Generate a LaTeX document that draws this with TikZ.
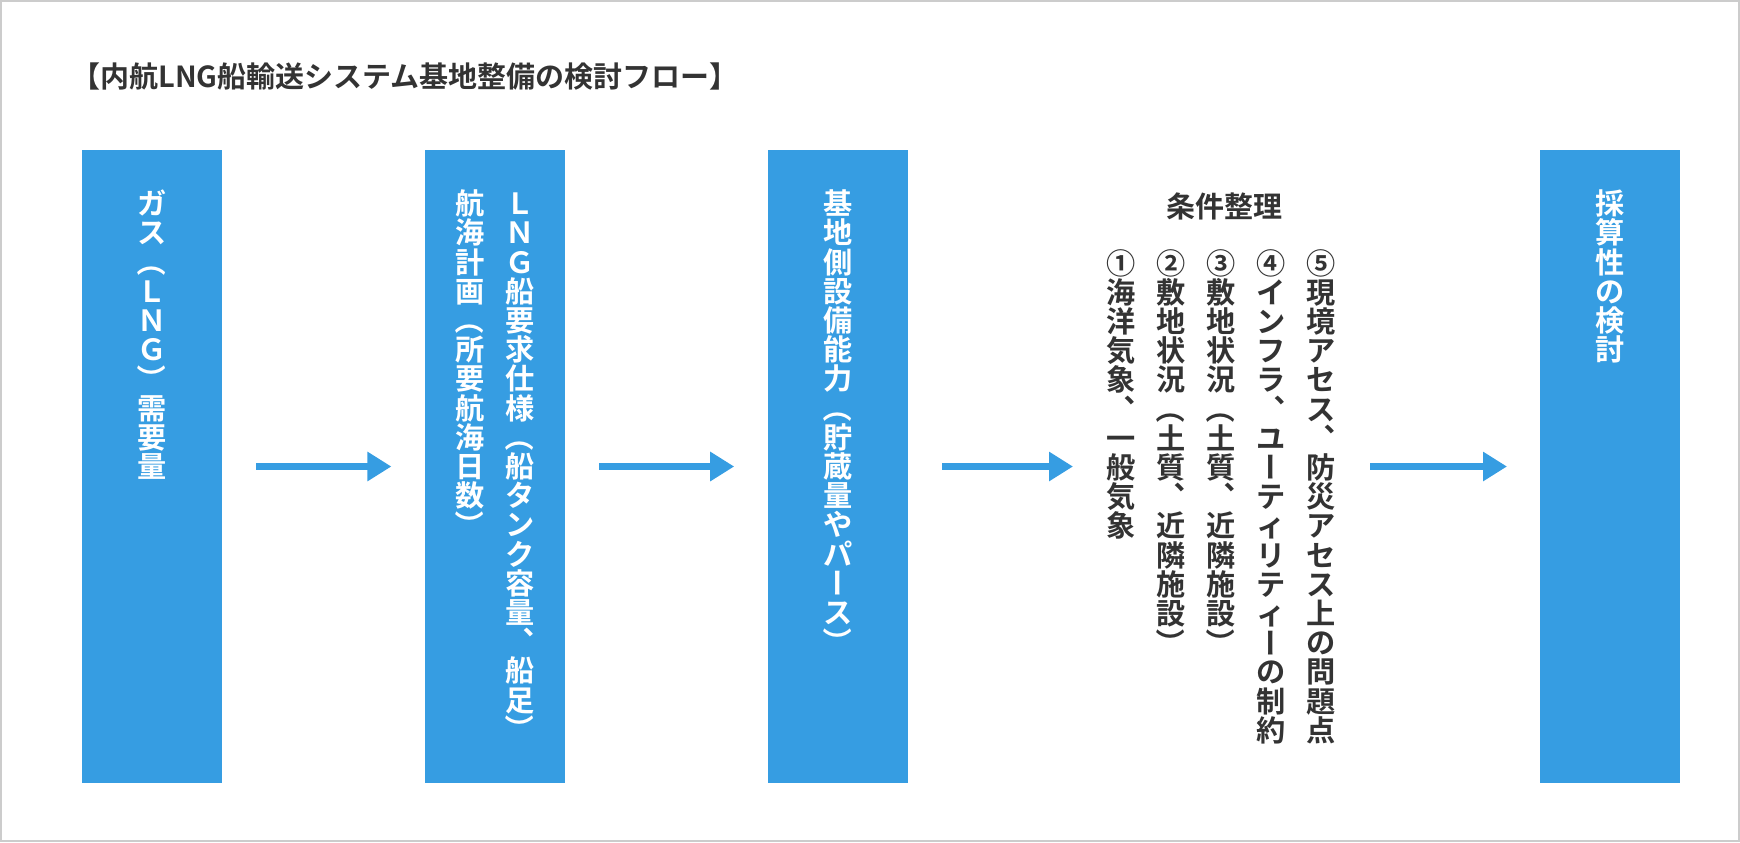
\documentclass[tikz,border=0pt]{standalone}
\usepackage{fontspec}
\usetikzlibrary{positioning,arrows.meta}
\setmainfont{Noto Sans CJK JP}[BoldFont={Noto Sans CJK JP Bold}]
\definecolor{flowblue}{HTML}{369DE2}
\definecolor{textgray}{HTML}{333333}
\definecolor{framegray}{HTML}{CCCCCC}

% vertical (tategaki) lines: one 1em cell per character
\makeatletter
\def\tate@lp{（}\def\tate@rp{）}\def\tate@bar{ー}\def\tate@comma{、}
\newcommand\tate@box[1]{\makebox[1em]{\vrule height .88em depth .12em width 0pt\relax#1}}
\newcommand\tate@up[1]{\rotatebox[origin=c]{90}{\tate@box{#1}}}
\newcommand\tate@cell{%
  \ifx\tate@c\tate@lp \tate@box{（}\else
  \ifx\tate@c\tate@rp \tate@box{）}\else
  \ifx\tate@c\tate@bar \tate@box{ー}\else
  \ifx\tate@c\tate@comma \tate@up{︑}\else
  \tate@up{\tate@c}\fi\fi\fi\fi}
\newcommand\tateline[1]{\@tfor\tate@c:=#1\do{\tate@cell}}
\makeatother

\begin{document}
\begin{tikzpicture}[
  x=0.5pt, y=-0.5pt,
  node distance=101pt,
  stepbox/.style={fill=flowblue, draw=none, minimum width=70pt, minimum height=316.5pt, inner sep=0pt},
  tate/.style={rotate=-90, anchor=west, inner sep=0pt, align=left, font=\bfseries\fontsize{14.6}{25}\selectfont},
  arrow/.style={draw=flowblue, fill=flowblue, line width=3.5pt, -{Triangle[length=12pt, width=14pt]}, shorten <=17pt, shorten >=16.5pt}
]
  \useasboundingbox (0,0) rectangle (1740,842);
  \draw[framegray, line width=1pt] (1,1) rectangle (1739,841);

  % title
  \node[anchor=west, inner sep=0pt, text=textgray, font=\bfseries\fontsize{14.5}{17}\selectfont] (title) at (71,77) {【内航LNG船輸送システム基地整備の検討フロー】};

  % flow boxes
  \node[stepbox] (demand) at (152,466.5) {};
  \node[stepbox, right=of demand] (ship) {};
  \node[stepbox, right=of ship] (base) {};
  \node[stepbox, right=316pt of base] (cost) {};

  \node[tate, text=white] (demandtext) at ([yshift=-19.5pt]demand.north) {\tateline{ガス（ＬＮＧ）需要量}};
  \node[tate, text=white] (shiptext) at ([yshift=-19.5pt]ship.north) {\tateline{ＬＮＧ船要求仕様（船タンク容量、船足）}\\\tateline{航海計画（所要航海日数）}};
  \node[tate, text=white] (basetext) at ([yshift=-19.5pt]base.north) {\tateline{基地側設備能力（貯蔵量やパース）}};
  \node[tate, text=white] (costtext) at ([yshift=-19.5pt]cost.north) {\tateline{採算性の検討}};

  % conditions
  \node[text=textgray, font=\bfseries\fontsize{14.5}{17}\selectfont] (condtitle) at (1224.5,206) {条件整理};
  \node[tate, text=textgray] (conds) at (1221,248) {\tateline{⑤現境アセス、防災アセス上の問題点}\\\tateline{④インフラ、ユーティリティーの制約}\\\tateline{③敷地状況（土質、近隣施設）}\\\tateline{②敷地状況（土質、近隣施設）}\\\tateline{①海洋気象、一般気象}};

  \draw[arrow] (demand) -- (ship);
  \draw[arrow] (ship) -- (base);
  \draw[arrow] (base.east) -- (base.east -| conds.south);
  \draw[arrow] (cost.west -| conds.north) -- (cost.west);
\end{tikzpicture}
\end{document}
